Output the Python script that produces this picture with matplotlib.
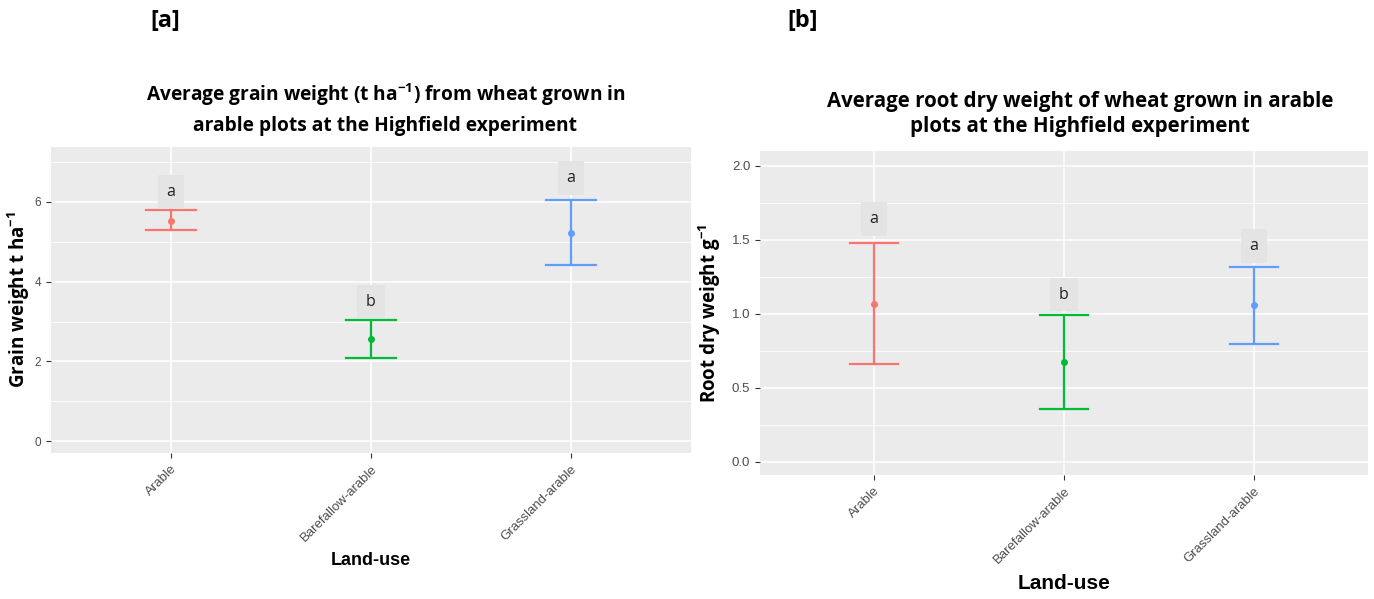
import matplotlib.pyplot as plt
from matplotlib.ticker import MultipleLocator

# data
land_use = ['Arable', 'Barefallow-arable', 'Grassland-arable']
colores = ['#F8766D', '#00BA38', '#619CFF']

grano_media = [5.52, 2.56, 5.22]
grano_bajo = [5.30, 2.08, 4.42]
grano_alto = [5.80, 3.04, 6.05]
grano_letras = ['a', 'b', 'a']
grano_letras_y = [6.25, 3.50, 6.60]

raiz_media = [1.07, 0.675, 1.06]
raiz_bajo = [0.66, 0.36, 0.80]
raiz_alto = [1.48, 0.99, 1.32]
raiz_letras = ['a', 'b', 'a']
raiz_letras_y = [1.64, 1.13, 1.46]

fig = plt.figure(figsize=(13.74, 5.99), dpi=100)
fig.patch.set_facecolor('white')

ax1 = fig.add_axes([0.0371, 0.2437, 0.4658, 0.5109])
ax2 = fig.add_axes([0.5531, 0.207, 0.4425, 0.5409])


def panel(ax, media, bajo, alto, letras, letras_y, ylim, paso, fmt, tick_fs):
    ax.set_facecolor('#EBEBEB')
    for s in ax.spines.values():
        s.set_visible(False)
    x = list(range(1, len(land_use) + 1))
    for i in range(len(x)):
        ax.plot([x[i], x[i]], [bajo[i], alto[i]], color=colores[i], lw=1.6, zorder=3)
        for yy in (bajo[i], alto[i]):
            ax.plot([x[i] - 0.125, x[i] + 0.125], [yy, yy], color=colores[i], lw=1.6, zorder=3)
        ax.plot(x[i], media[i], 'o', color=colores[i], ms=4, zorder=4)
        ax.text(x[i], letras_y[i], letras[i], ha='center', va='center', fontsize=11.5,
                family='Open Sans', color='#222222', zorder=5,
                bbox=dict(boxstyle='square,pad=0.55', fc='#E4E4E4', ec='none'))
    ax.set_xlim(0.4, 3.6)
    ax.set_ylim(*ylim)
    ax.yaxis.set_major_locator(MultipleLocator(paso))
    ax.yaxis.set_minor_locator(MultipleLocator(paso / 2))
    ax.yaxis.set_major_formatter(fmt)
    ax.set_xticks(x)
    ax.set_xticklabels(land_use, rotation=45, ha='right', rotation_mode='anchor',
                       fontsize=9.5, color='#4D4D4D', family='Liberation Sans')
    ax.grid(True, which='major', color='white', lw=1.1, zorder=0)
    ax.grid(True, which='minor', axis='y', color='white', lw=0.6, zorder=0)
    ax.set_axisbelow(True)
    ax.tick_params(axis='both', which='major', length=3.5, color='#333333', labelcolor='#4D4D4D',
                   labelsize=tick_fs)
    ax.tick_params(axis='x', labelsize=9.5)
    ax.tick_params(axis='both', which='minor', length=0)
    for t in ax.get_yticklabels():
        t.set_family('Liberation Sans')


panel(ax1, grano_media, grano_bajo, grano_alto, grano_letras, grano_letras_y,
      (-0.3, 7.38), 2, '{x:.0f}', 8.5)
panel(ax2, raiz_media, raiz_bajo, raiz_alto, raiz_letras, raiz_letras_y,
      (-0.088, 2.1), 0.5, '{x:.1f}', 9.5)

ax1.set_ylabel('Grain weight t ha$^{\\mathregular{-1}}$', fontsize=13.5, fontweight='bold',
               family='Open Sans', labelpad=2)
ax2.set_ylabel('Root dry weight g$^{\\mathregular{-1}}$', fontsize=13.5, fontweight='bold',
               family='Open Sans', labelpad=6)
ax1.set_xlabel('Land-use', fontsize=13, fontweight='bold', family='Liberation Sans', labelpad=6)
ax2.set_xlabel('Land-use', fontsize=15, fontweight='bold', family='Liberation Sans', labelpad=6)

fig.text(0.2805, 0.819, 'Average grain weight (t ha$^{\\mathregular{-1}}$) from wheat grown in\n'
         'arable plots at the Highfield experiment', ha='center', va='center',
         fontsize=13.8, fontweight='bold', family='Open Sans', linespacing=1.55)
fig.text(0.786, 0.81, 'Average root dry weight of wheat grown in arable\n'
         'plots at the Highfield experiment', ha='center', va='center',
         fontsize=14.8, fontweight='bold', family='Open Sans', linespacing=1.25)

fig.text(0.12, 0.965, '[a]', ha='center', va='center', fontsize=17, fontweight='bold',
         family='Open Sans')
fig.text(0.584, 0.965, '[b]', ha='center', va='center', fontsize=17, fontweight='bold',
         family='Open Sans')

fig.savefig('out.png', dpi=100)
